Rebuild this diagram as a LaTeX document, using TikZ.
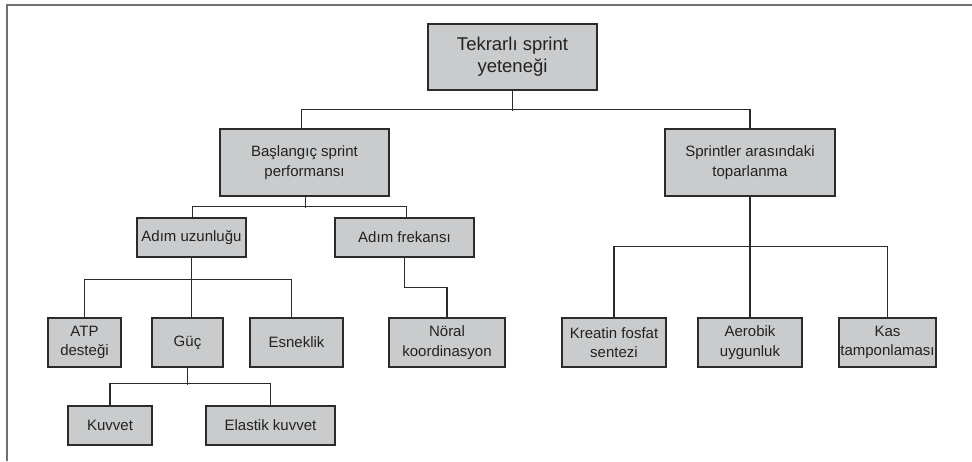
\documentclass[tikz,border=0pt]{standalone}
\usepackage{fontspec}
\setmainfont{Liberation Sans}
\definecolor{boxfill}{HTML}{C9CBCC}
\definecolor{boxline}{HTML}{2B2B2B}
\definecolor{framegray}{HTML}{707070}
\definecolor{txt}{HTML}{222222}
\begin{document}
\begin{tikzpicture}[x=1pt,y=-1pt,
  box/.style={draw=boxline,fill=boxfill,line width=1.5pt,inner sep=0pt,align=center,text=txt,
    font=\fontsize{15}{19.5}\selectfont},
  topbox/.style={box,font=\fontsize{18.5}{22}\selectfont},
  conn/.style={draw=boxline,line width=1.5pt}]
\useasboundingbox (0,0) rectangle (972,461);
\draw[framegray,line width=2pt] (7,461) -- (7,5) -- (972,5);

\node[topbox,minimum width=169,minimum height=66] (top) at (512.5,57) {Tekrarlı sprint\\yeteneği};
\node[box,minimum width=169,minimum height=67] (bsp) at (304.5,162.5) {Başlangıç sprint\\performansı};
\node[box,minimum width=170,minimum height=67] (spr) at (750,162.5) {Sprintler arasındaki\\toparlanma};
\node[box,minimum width=109,minimum height=39] (adu) at (191.5,237.5) {Adım uzunluğu};
\node[box,minimum width=139,minimum height=39] (adf) at (404.5,237.5) {Adım frekansı};
\node[box,minimum width=73,minimum height=49] (atp) at (84.5,342.5) {ATP\\desteği};
\node[box,minimum width=71,minimum height=49] (guc) at (187.5,342.5) {Güç};
\node[box,minimum width=93,minimum height=49] (esn) at (296.5,342.5) {Esneklik};
\node[box,minimum width=116,minimum height=49] (nor) at (447,342.5) {Nöral\\koordinasyon};
\node[box,minimum width=84,minimum height=39] (kuv) at (110,425.5) {Kuvvet};
\node[box,minimum width=129,minimum height=39] (ela) at (270.5,425.5) {Elastik kuvvet};
\node[box,minimum width=104,minimum height=49] (kre) at (614,342.5) {Kreatin fosfat\\sentezi};
\node[box,minimum width=104,minimum height=49] (aer) at (750,342.5) {Aerobik\\uygunluk};
\node[box,minimum width=97,minimum height=49] (kas) at (887.5,342.5) {Kas\\tamponlaması};

% top -> level 2
\draw[conn] (top.south) -- ++(0,20);
\draw[conn] ([xshift=-3pt]bsp.north) -- ++(0,-19) -| (spr.north);
% bsp -> adu, adf
\draw[conn] ([xshift=1pt]bsp.south) -- ++(0,11);
\draw[conn] ([xshift=1pt]adu.north) -- ++(0,-11) -| ([xshift=2pt]adf.north);
% adu -> atp, guc, esn
\draw[conn] (adu.south) -- ++(0,23);
\draw[conn] (atp.north) -- ++(0,-38) -| ([xshift=-5pt]esn.north);
\draw[conn] ([xshift=4pt]guc.north) -- ++(0,-38);
% guc -> kuv, ela
\draw[conn] (guc.south) -- ++(0,17);
\draw[conn] (kuv.north) -- ++(0,-22) -| (ela.north);
% adf -> nor
\draw[conn] (adf.south) -- ++(0,29.5) -| (nor.north);
% spr -> kre, aer, kas
\draw[conn] (spr.south) -- ++(0,51);
\draw[conn] (kre.north) -- ++(0,-71) -| (kas.north);
\draw[conn] (aer.north) -- ++(0,-71);
\end{tikzpicture}
\end{document}
